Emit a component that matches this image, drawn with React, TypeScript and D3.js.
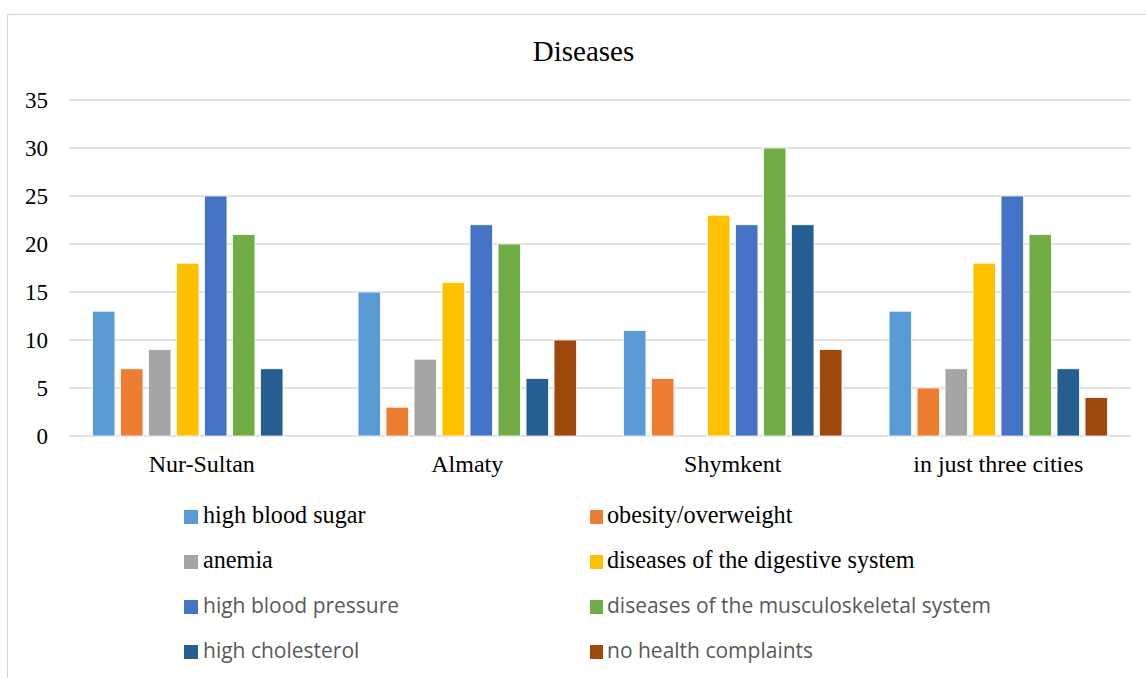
import React from "react";
import * as d3 from "d3";

const categories = ["Nur-Sultan", "Almaty", "Shymkent", "in just three cities"];
const seriesNames = [
  "high blood sugar",
  "obesity/overweight",
  "anemia",
  "diseases of the digestive system",
  "high blood pressure",
  "diseases of the musculoskeletal system",
  "high cholesterol",
  "no health complaints",
];
const highBloodSugar = [13, 15, 11, 13];
const obesity = [7, 3, 6, 5];
const anemia = [9, 8, 0, 7];
const digestive = [18, 16, 23, 18];
const highBloodPressure = [25, 22, 22, 25];
const musculoskeletal = [21, 20, 30, 21];
const highCholesterol = [7, 6, 22, 7];
const noComplaints = [0, 10, 9, 4];
const seriesValues = [
  highBloodSugar,
  obesity,
  anemia,
  digestive,
  highBloodPressure,
  musculoskeletal,
  highCholesterol,
  noComplaints,
];
const colors = ["#5B9BD5", "#ED7D31", "#A5A5A5", "#FFC000", "#4472C4", "#70AD47", "#255E91", "#9E480E"];
const yTicks = [0, 5, 10, 15, 20, 25, 30, 35];

const W = 1146;
const H = 678;
const plot = { left: 69, right: 1131, top: 100, bottom: 436 };
const serif = "'Liberation Serif', 'Times New Roman', serif";
const sans = "'Open Sans', 'Liberation Sans', sans-serif";

export default function App() {
  const x0 = d3.scaleBand<string>().domain(categories).range([plot.left, plot.right]).padding(0);
  const x1 = d3
    .scaleBand<string>()
    .domain(seriesNames)
    .range([0, x0.bandwidth()])
    .paddingInner(0.2)
    .paddingOuter(0.841);
  const y = d3.scaleLinear().domain([0, 35]).range([plot.bottom, plot.top]);

  const legendCols = [184, 590];
  const legendRows = [510, 555, 600, 645];

  return (
    <svg width={W} height={H} style={{ position: "absolute", left: 0, top: 0, background: "#fff" }}>
      <rect x={0} y={0} width={W} height={H} fill="#fff" />
      <rect x={7.5} y={14.5} width={1170} height={700} fill="none" stroke="#d9d9d9" strokeWidth={1.2} />
      <text x={583.5} y={61} textAnchor="middle" fontFamily={serif} fontSize={29} fill="#000">
        Diseases
      </text>
      {yTicks.map((t) => (
        <g key={t}>
          <line x1={plot.left} x2={plot.right} y1={y(t)} y2={y(t)} stroke="#d9d9d9" strokeWidth={1.5} />
          <text x={48} y={y(t)} dy="0.34em" textAnchor="end" fontFamily={serif} fontSize={23} fill="#000">
            {t}
          </text>
        </g>
      ))}
      {categories.map((c, ci) => (
        <g key={c}>
          {seriesNames.map((s, si) => {
            const v = seriesValues[si][ci];
            if (!v) return null;
            return (
              <rect
                key={s}
                x={(x0(c) as number) + (x1(s) as number)}
                y={y(v)}
                width={x1.bandwidth()}
                height={y(0) - y(v)}
                fill={colors[si]}
                stroke="#fff"
                strokeWidth={0.75}
              />
            );
          })}
          <text
            x={(x0(c) as number) + x0.bandwidth() / 2}
            y={472}
            textAnchor="middle"
            fontFamily={serif}
            fontSize={24}
            fill="#000"
          >
            {c}
          </text>
        </g>
      ))}
      {seriesNames.map((s, i) => {
        const col = i % 2;
        const row = Math.floor(i / 2);
        const isSerif = i < 4;
        const sx = legendCols[col];
        const sy = legendRows[row];
        return (
          <g key={s}>
            <rect x={sx} y={sy} width={col === 0 ? 14 : 13} height={14} fill={colors[i]} />
            <text
              x={col === 0 ? 203 : 607}
              y={sy + 13}
              fontFamily={isSerif ? serif : sans}
              fontSize={isSerif ? 24.2 : 21}
              fill={isSerif ? "#000" : "#595959"}
            >
              {s}
            </text>
          </g>
        );
      })}
    </svg>
  );
}
